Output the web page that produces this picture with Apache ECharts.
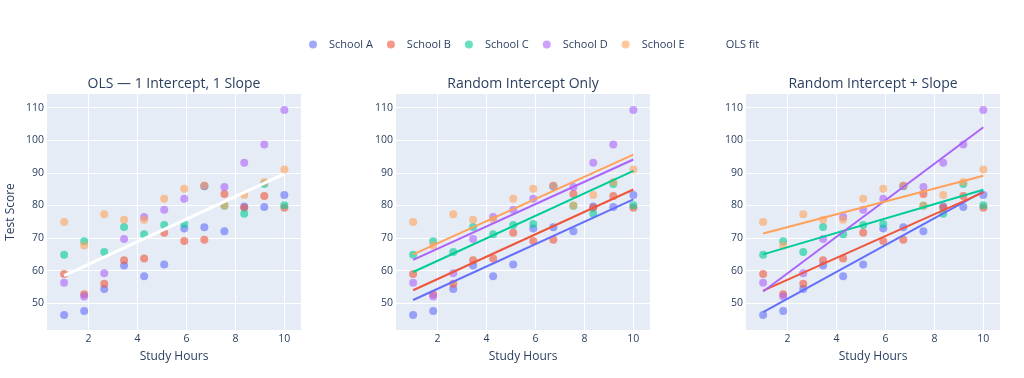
<!DOCTYPE html>
<html>
<head>
<meta charset="utf-8">
<script src="https://cdn.jsdelivr.net/npm/echarts@6/dist/echarts.min.js"></script>
<style>
  html, body { margin: 0; padding: 0; background: #fff; }
  #main { width: 1024px; height: 378px; }
</style>
</head>
<body>
<div id="main"></div>
<script>
// study hours, shared by every school
var hours = [1, 1.82, 2.64, 3.45, 4.27, 5.09, 5.91, 6.73, 7.55, 8.36, 9.18, 10];

var schools = ['School A', 'School B', 'School C', 'School D', 'School E'];
var colors = ['#636EFA', '#EF553B', '#00CC96', '#AB63FA', '#FFA15A'];

// test scores per school
var schoolA = [46.4, 47.6, 54.4, 61.6, 58.3, 61.9, 72.9, 73.3, 72.1, 79.7, 79.5, 83.2];
var schoolB = [59.0, 52.8, 56.0, 63.2, 63.7, 71.6, 69.1, 69.5, 83.5, 79.3, 82.9, 79.3];
var schoolC = [64.9, 69.0, 65.7, 73.4, 71.2, 74.0, 74.3, 85.9, 79.9, 77.5, 86.6, 80.1];
var schoolD = [56.3, 52.1, 59.2, 69.7, 76.5, 78.7, 82.1, 86.0, 85.7, 93.1, 98.7, 109.3];
var schoolE = [74.9, 67.7, 77.3, 75.6, 75.6, 82.1, 85.1, 86.1, 80.0, 83.2, 87.2, 91.0];
var scores = [schoolA, schoolB, schoolC, schoolD, schoolE];

// fitted values at hours = 1 and hours = 10
var fitHours = [1, 10];
var olsFit = [58.5, 89.7];
var riStart = [51.0, 54.0, 59.6, 63.3, 65.0];
var riEnd = [81.9, 84.9, 90.6, 94.1, 95.6];
var risStart = [47.3, 53.9, 65.0, 53.6, 71.4];
var risEnd = [84.3, 84.0, 84.8, 104.0, 89.1];

var panelTitles = ['OLS — 1 Intercept, 1 Slope', 'Random Intercept Only', 'Random Intercept + Slope'];
var panelLeft = [47, 396, 746];
var panelWidth = 254;

var textColor = '#2a3f5f';
var font = '"Open Sans", verdana, arial, sans-serif';

function pairs(xs, ys) {
  var out = [];
  for (var i = 0; i < xs.length; i++) out.push([xs[i], ys[i]]);
  return out;
}

var grids = [], xAxes = [], yAxes = [], titles = [], series = [];

for (var p = 0; p < 3; p++) {
  grids.push({
    left: panelLeft[p], width: panelWidth, top: 94, height: 236,
    show: true, backgroundColor: '#E5ECF6', borderWidth: 0
  });
  titles.push({
    text: panelTitles[p],
    left: panelLeft[p] + panelWidth / 2, top: 77, textAlign: 'center', padding: 0,
    textStyle: { fontFamily: font, fontSize: 14, fontWeight: 'normal', color: textColor }
  });
  xAxes.push({
    type: 'value', gridIndex: p, min: 0.3, max: 10.68,
    name: 'Study Hours', nameLocation: 'middle', nameGap: 21,
    nameTextStyle: { fontFamily: font, fontSize: 12, color: textColor },
    axisLine: { show: false }, axisTick: { show: false },
    axisLabel: { fontFamily: font, fontSize: 10.5, color: textColor, margin: 4, showMinLabel: false, showMaxLabel: false },
    splitLine: { lineStyle: { color: '#fff', width: 1 }, showMinLine: false, showMaxLine: false }
  });
  yAxes.push({
    type: 'value', gridIndex: p, min: 41.8, max: 114.2,
    name: p === 0 ? 'Test Score' : '', nameLocation: 'middle', nameGap: 30,
    nameTextStyle: { fontFamily: font, fontSize: 12, color: textColor },
    axisLine: { show: false }, axisTick: { show: false },
    axisLabel: { fontFamily: font, fontSize: 10.5, color: textColor, margin: 3, showMinLabel: false, showMaxLabel: false },
    splitLine: { lineStyle: { color: '#fff', width: 1 }, showMinLine: false, showMaxLine: false }
  });

  for (var s = 0; s < schools.length; s++) {
    series.push({
      type: 'scatter', name: schools[s], xAxisIndex: p, yAxisIndex: p,
      symbolSize: 8,
      itemStyle: { color: colors[s], opacity: 0.6 },
      data: pairs(hours, scores[s]),
      z: 2
    });
  }
}

// OLS line
series.push({
  type: 'line', name: 'OLS fit', xAxisIndex: 0, yAxisIndex: 0,
  data: pairs(fitHours, olsFit), symbol: 'none',
  lineStyle: { color: '#fff', width: 3 }, itemStyle: { color: '#fff' }, z: 3
});

// per-school fitted lines
for (var s = 0; s < schools.length; s++) {
  series.push({
    type: 'line', name: schools[s] + ' RI', xAxisIndex: 1, yAxisIndex: 1,
    data: pairs(fitHours, [riStart[s], riEnd[s]]), symbol: 'none',
    lineStyle: { color: colors[s], width: 2 }, z: 3
  });
  series.push({
    type: 'line', name: schools[s] + ' RIS', xAxisIndex: 2, yAxisIndex: 2,
    data: pairs(fitHours, [risStart[s], risEnd[s]]), symbol: 'none',
    lineStyle: { color: colors[s], width: 2 }, z: 3
  });
}

var legendData = schools.map(function (n) { return { name: n, icon: 'circle' }; });
legendData.push({ name: 'OLS fit', icon: 'rect' });

var chart = echarts.init(document.getElementById('main'));
chart.setOption({
  animation: false,
  backgroundColor: '#fff',
  title: titles,
  legend: {
    data: legendData,
    left: 304, top: 34,
    itemWidth: 22, itemHeight: 8, itemGap: 14,
    textStyle: { fontFamily: font, fontSize: 11, color: textColor }
  },
  grid: grids,
  xAxis: xAxes,
  yAxis: yAxes,
  series: series
});
</script>
</body>
</html>
